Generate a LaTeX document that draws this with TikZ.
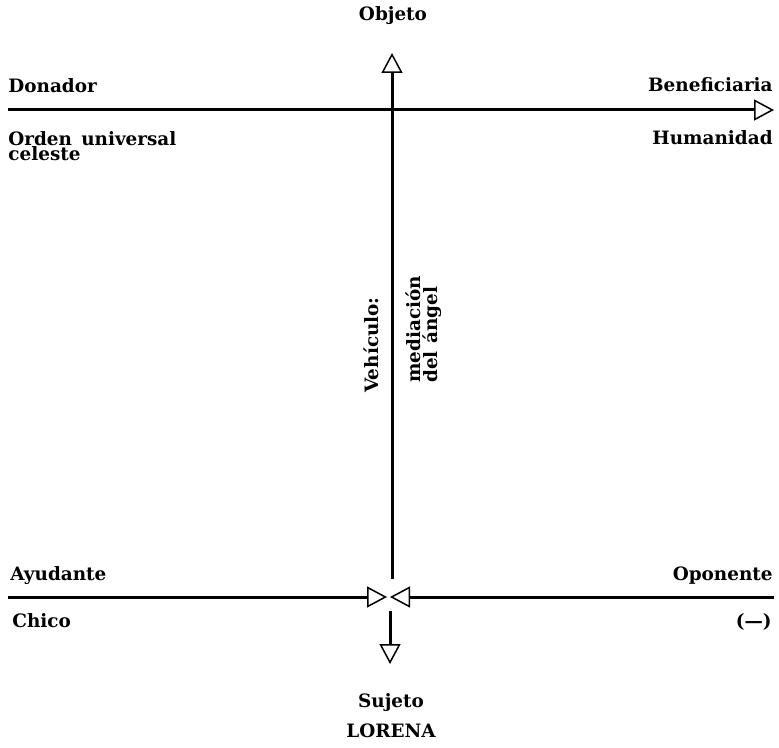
\documentclass[tikz,border=0pt]{standalone}
\usepackage{fontspec}
\setmainfont{DejaVu Serif}
\usepackage{tikz}
\usetikzlibrary{arrows.meta}

\begin{document}
\begin{tikzpicture}[x=0.5pt,y=0.5pt,
    font=\bfseries\fontsize{9.2}{11}\selectfont,
    axis/.style={line width=1.5pt},
    opentip/.style={-{Triangle[open,length=10pt,width=10.5pt,line width=0.75pt]}},
    lbl/.style={inner sep=0pt}]
    \useasboundingbox (0,0) rectangle (779,-747);
    % ends of the lines
    \path (  8,-110) coordinate (donadorend);
    \path (774,-110) coordinate (beneftip);
    \path (392,-579) coordinate (vehbase);
    \path (392, -53) coordinate (objtip);
    \path (  8,-597) coordinate (ayudend);
    \path (387,-597) coordinate (ayudtip);
    \path (774,-597) coordinate (oponend);
    \path (390,-597) coordinate (opontip);
    \path (390,-611) coordinate (sujbase);
    \path (390,-664) coordinate (sujtip);
    % labels
    \path (393, -21) node [lbl,anchor=base] (objeto) {Objeto};
    \path (  8, -93) node [lbl,anchor=base west] (donador) {Donador};
    \path (  8,-161) node [lbl,anchor=base west,align=left,
        font=\bfseries\fontsize{9.2}{7.8}\selectfont] (orden) {Orden\hspace{0.5em}universal\\celeste};
    \path (773, -92) node [lbl,anchor=base east] (benef) {Beneficiaria};
    \path (773,-145) node [lbl,anchor=base east] (humanidad) {Humanidad};
    \path ( 10,-580) node [lbl,anchor=base west] (ayudante) {Ayudante};
    \path (773,-580) node [lbl,anchor=base east] (oponente) {Oponente};
    \path ( 12,-627) node [lbl,anchor=base west] (chico) {Chico};
    \path (772,-627) node [lbl,anchor=base east] (nadie) {(---)};
    \path (391,-707) node [lbl,anchor=base] (sujeto) {Sujeto};
    \path (391,-737) node [lbl,anchor=base] (lorena) {LORENA};
    \path (363,-345) node [lbl,rotate=90,anchor=north] (vehiculo) {Vehículo:};
    \path (405,-383) node [lbl,rotate=90,anchor=north west,align=left,
        font=\bfseries\fontsize{9.2}{8.5}\selectfont] (mediacion) {mediación\\del\hspace{0.4em}ángel};
    % lines
    \draw [axis,opentip] (donadorend) -- (beneftip);
    \draw [axis,opentip] (vehbase) -- (objtip);
    \draw [axis,opentip] (ayudend) -- (ayudtip);
    \draw [axis,opentip] (oponend) -- (opontip);
    \draw [axis,opentip] (sujbase) -- (sujtip);
\end{tikzpicture}
\end{document}
